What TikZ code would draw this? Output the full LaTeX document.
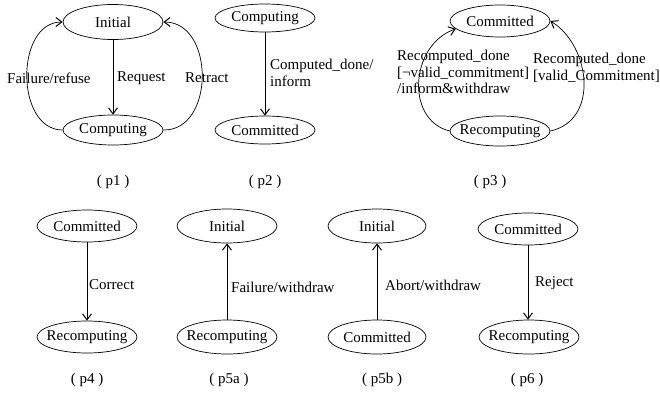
\documentclass[tikz,border=0pt]{standalone}
\usepackage{fontspec}
\setmainfont{Liberation Serif}
\usetikzlibrary{shapes.geometric,arrows.meta}
\begin{document}
\begin{tikzpicture}[x=1pt,y=-1pt,
  every node/.style={font=\fontsize{15}{16.5}\selectfont},
  st/.style={draw,ellipse,minimum width=100pt,minimum height=32pt,
             inner xsep=-15pt,inner ysep=0pt,line width=0.7pt},
  tr/.style={line width=0.7pt,-{Straight Barb[length=6pt,width=9pt,line width=1pt]}},
  lbl/.style={anchor=west,inner sep=0pt,align=left},
  captxt/.style={inner sep=0pt}]
\useasboundingbox (0,0) rectangle (660,394);

% (p1)
\node[st,minimum height=35pt] (i1) at (113,22) {Initial};
\node[st,minimum height=30pt] (c1) at (113,130) {Computing};
\draw[tr] (i1) -- (c1);
\draw[tr] (c1.west) .. controls (15,130) and (15,22) .. (i1.west);
\draw[tr] (c1.east) .. controls (215,131) and (215,22) .. (i1.east);
\node[lbl] (l1a) at (7,78) {Failure/refuse};
\node[lbl] (l1b) at (117,78) {Request};
\node[lbl] (l1c) at (185,78) {Retract};
\node[captxt] (p1) at (113,182) {( p1 )};

% (p2)
\node[st,minimum height=28pt] (c2) at (265,18) {Computing};
\node[st,minimum height=28pt] (m2) at (265,130) {Committed};
\draw[tr] (c2) -- (m2);
\node[lbl] (l2) at (270,73) {Computed\_done/\\inform};
\node[captxt] (p2) at (265,182) {( p2 )};

% (p3)
\node[st] (m3) at (500,21) {Committed};
\node[st,minimum height=30pt] (r3) at (500,131) {Recomputing};
\draw[tr] (r3.west) .. controls (405,120) and (410,45) .. (m3.190);
\draw[tr] (r3.east) .. controls (600,120) and (590,45) .. (m3.east);
\node[lbl] (l3a) at (397,72) {Recomputed\_done\\{}[¬valid\_commitment]\\/inform\&withdraw};
\node[lbl] (l3b) at (533,68) {Recomputed\_done\\{}[valid\_Commitment]};
\node[captxt] (p3) at (490,182) {( p3 )};

% (p4)
\node[st] (m4) at (87,226) {Committed};
\node[st] (r4) at (87,337) {Recomputing};
\draw[tr] (m4) -- (r4);
\node[lbl] (l4) at (89,285) {Correct};
\node[captxt] (p4) at (87,380) {( p4 )};

% (p5a)
\node[st,minimum height=34pt] (i5) at (227,226) {Initial};
\node[st,minimum height=34pt] (r5) at (227,337) {Recomputing};
\draw[tr] (r5) -- (i5);
\node[lbl] (l5) at (231,287) {Failure/withdraw};
\node[captxt] (p5) at (229,380) {( p5a )};

% (p5b)
\node[st,minimum height=34pt,minimum width=98pt] (i6) at (377,226) {Initial};
\node[st,minimum height=34pt,minimum width=98pt] (m6) at (377,337) {Committed};
\draw[tr] (m6) -- (i6);
\node[lbl] (l6) at (385,285) {Abort/withdraw};
\node[captxt] (p6) at (382,380) {( p5b )};

% (p6)
\node[st] (m7) at (528,229) {Committed};
\node[st,minimum height=34pt] (r7) at (529,337) {Recomputing};
\draw[tr] (m7.south) -- (m7.south |- r7.north);
\node[lbl] (l7) at (535,283) {Reject};
\node[captxt] (p7) at (527,380) {( p6 )};
\end{tikzpicture}
\end{document}
